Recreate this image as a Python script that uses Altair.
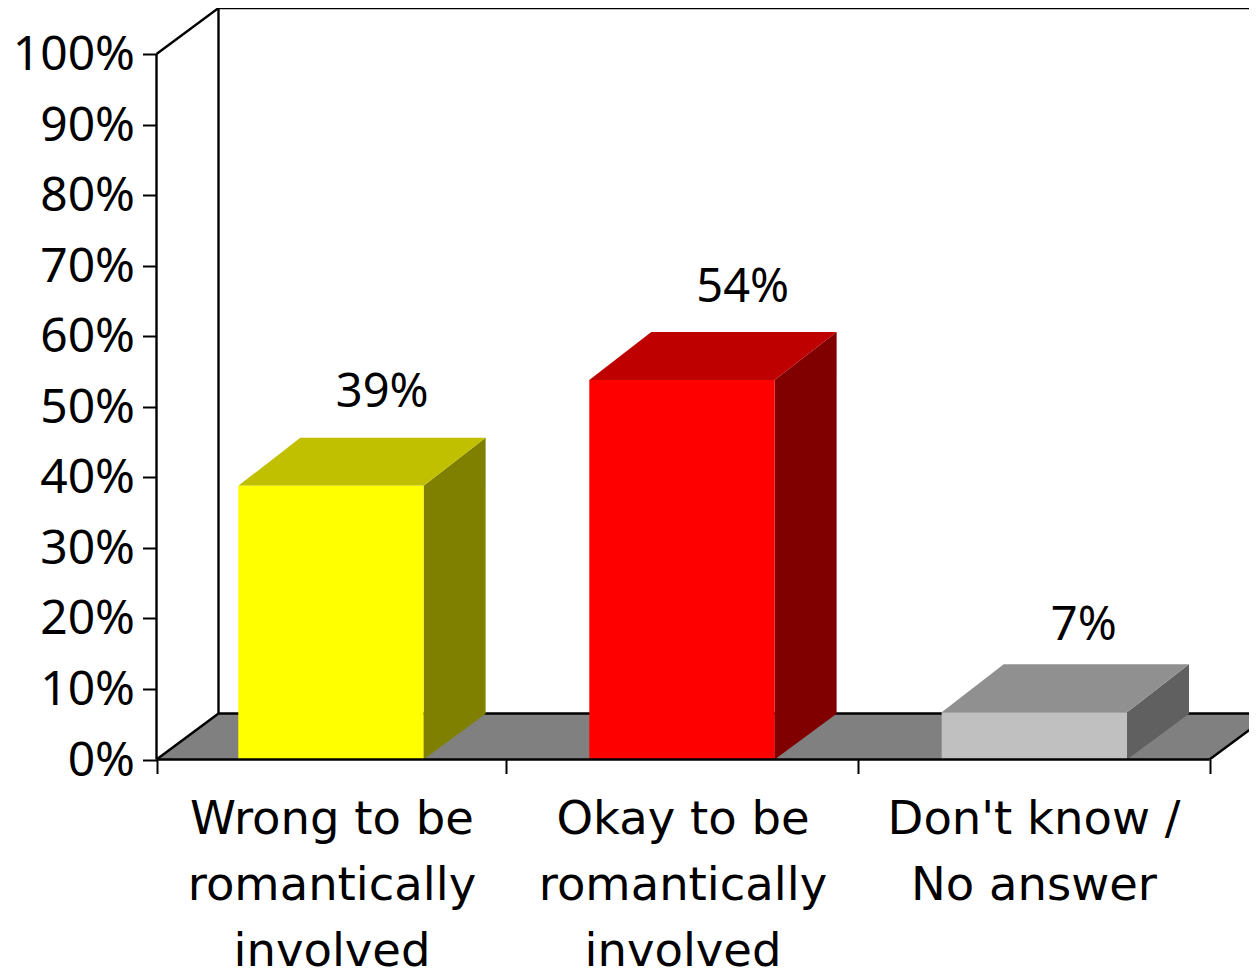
import altair as alt
import pandas as pd

NUM_FONT = "Noto Sans"
CAT_FONT = "DejaVu Sans"
categories = ["Wrong to be\nromantically\ninvolved", "Okay to be\nromantically\ninvolved", "Don't know /\nNo answer"]
category_centers = [0.5, 1.5, 2.5]
bar_centers = [0.497, 1.497, 2.501]
bar_heights = [38.8, 53.8, 6.7]
value_labels = ["39%", "54%", "7%"]
label_x = [0.643, 1.67, 2.642]
label_y = [50.0, 64.9, 16.9]
front_colors = ["#FFFF00", "#FF0000", "#C0C0C0"]
top_colors = ["#C0C000", "#BF0000", "#909090"]
side_colors = ["#808000", "#800000", "#606060"]
y_ticks = list(range(0, 101, 10))
x_ticks = [0, 0.996, 1.998, 3]

HALF = 0.264
DX = 62 / 351
WALL_DY = 6.52
BAR_DY = 6.8
X_MIN, X_MAX = -148.5 / 351, (1241 - 148.5) / 351
Y_MIN, Y_MAX = -29.55, 106.24
xs = alt.Scale(domain=[X_MIN, X_MAX], range=[0, 1241], nice=False, zero=False)
ys = alt.Scale(domain=[Y_MIN, Y_MAX], range=[958, 0], nice=False, zero=False)

x_axis = alt.Axis(values=x_ticks, labels=False, title=None, domain=False, grid=False,
                  tickSize=14, tickWidth=2, tickColor="#000", offset=-208.5)
y_axis = alt.Axis(values=y_ticks, title=None, domain=False, grid=False,
                  tickSize=14, tickWidth=2, tickColor="#000", offset=-148.5,
                  labelExpr="datum.value + '%'", labelFont=NUM_FONT, labelFontSize=48,
                  labelColor="#000", labelPadding=8, labelBaseline="middle", labelOffset=1.5)

front = pd.DataFrame({
    "x0": [c - HALF for c in bar_centers],
    "x1": [c + HALF for c in bar_centers],
    "y0": [0.0] * 3,
    "y1": bar_heights,
    "color": front_colors,
})
side_rows, top_rows = [], []
for i, c in enumerate(bar_centers):
    v = bar_heights[i]
    side_rows += [
        {"k": i, "x": c + HALF, "y": 0.0, "y2": v, "color": side_colors[i]},
        {"k": i, "x": c + HALF + DX, "y": BAR_DY - 0.3, "y2": v + BAR_DY, "color": side_colors[i]},
    ]
    top_rows += [
        {"k": i, "y": v, "x": c - HALF, "x2": c + HALF, "color": top_colors[i]},
        {"k": i, "y": v + BAR_DY, "x": c - HALF + DX, "x2": c + HALF + DX, "color": top_colors[i]},
    ]
side = pd.DataFrame(side_rows)
top = pd.DataFrame(top_rows)
floor = pd.DataFrame([
    {"y": 0.0, "x": 0.0, "x2": 3.0},
    {"y": WALL_DY, "x": DX, "x2": 3.0 + DX},
])
segments = [
    ("axis", 0.0, 0.0), ("axis", 0.0, 100.0),
    ("diag_top", 0.0, 100.0), ("diag_top", DX, 100.0 + WALL_DY),
    ("wall_top", DX, 100.0 + WALL_DY), ("wall_top", X_MAX, 100.0 + WALL_DY),
    ("wall_left", DX, WALL_DY), ("wall_left", DX, 100.0 + WALL_DY),
    ("floor_back", DX, WALL_DY), ("floor_back", 3.0 + DX, WALL_DY),
    ("floor_left", 0.0, 0.0), ("floor_left", DX, WALL_DY),
    ("floor_right", 3.0, 0.0), ("floor_right", 3.0 + DX, WALL_DY),
]
back_lines = pd.DataFrame(segments, columns=["seg", "x", "y"])
baseline = pd.DataFrame({"seg": ["base", "base"], "x": [0.0, 3.0], "y": [0.0, 0.0]})
cat_df = pd.DataFrame({"x": category_centers, "y": [-10.6] * 3, "t": categories})
val_df = pd.DataFrame({"x": label_x, "y": label_y, "t": value_labels})

X = lambda f: alt.X(f, type="quantitative", scale=xs, axis=x_axis)
Y = lambda f: alt.Y(f, type="quantitative", scale=ys, axis=y_axis)

floor_l = alt.Chart(floor).mark_area(orient="horizontal", color="#808080").encode(
    y=Y("y"), x=X("x"), x2="x2:Q")
lines = alt.Chart(back_lines).mark_line(color="#000", strokeWidth=2.4).encode(
    x=X("x"), y=Y("y"), detail="seg:N")
front_l = alt.Chart(front).mark_rect().encode(
    x=X("x0"), x2="x1:Q", y=Y("y0"), y2="y1:Q", color=alt.Color("color:N", scale=None))
side_l = alt.Chart(side).mark_area().encode(
    x=X("x"), y=Y("y"), y2="y2:Q", detail="k:N", color=alt.Color("color:N", scale=None))
top_l = alt.Chart(top).mark_area(orient="horizontal").encode(
    y=Y("y"), x=X("x"), x2="x2:Q", detail="k:N", color=alt.Color("color:N", scale=None))
base_l = alt.Chart(baseline).mark_line(color="#000", strokeWidth=2.4).encode(x=X("x"), y=Y("y"), detail="seg:N")
cat_l = alt.Chart(cat_df).mark_text(font=CAT_FONT, fontSize=46.5, color="#000", lineBreak="\n", lineHeight=66,
                                    baseline="alphabetic", align="center").encode(x=X("x"), y=Y("y"), text="t:N")
val_l = alt.Chart(val_df).mark_text(font=NUM_FONT, fontSize=47, color="#000", baseline="alphabetic",
                                    align="center").encode(x=X("x"), y=Y("y"), text="t:N")

chart = alt.layer(floor_l, lines, side_l, top_l, front_l, base_l, cat_l, val_l).properties(
    width=1241, height=958,
    padding={"left": 0, "right": 0, "top": 2, "bottom": 0},
    autosize=alt.AutoSizeParams(type="none"),
).configure_view(stroke=None)
chart.save("out.html", embed_options={"renderer": "svg", "actions": False})
